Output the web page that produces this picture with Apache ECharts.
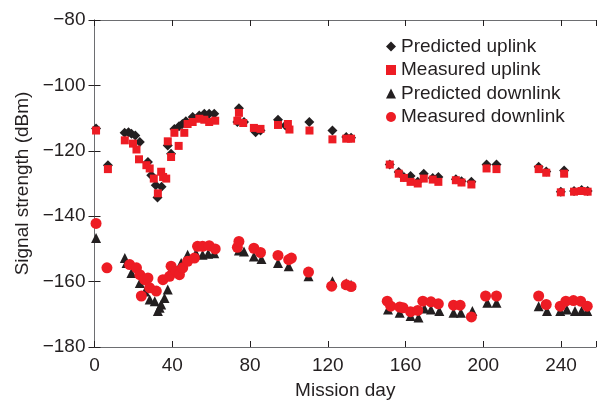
<!DOCTYPE html>
<html><head><meta charset="utf-8">
<script src="https://cdn.jsdelivr.net/npm/echarts@6/dist/echarts.min.js"></script>
<style>html,body{margin:0;padding:0;background:#fff}#c{width:599px;height:405px}</style>
</head><body><div id="c"></div>
<script>
const xTicks = [0, 40, 80, 120, 160, 200, 240];
const yTicks = [-180, -160, -140, -120, -100, -80];
const seriesNames = ['Predicted uplink', 'Measured uplink', 'Predicted downlink', 'Measured downlink'];

const predUpDays = [0.8, 6.9, 15.5, 17.5, 19, 21, 23.3, 27.5, 29.2, 31.5, 32.4, 34.5, 37.7, 39.4, 41.1, 43.5, 45.2, 47, 50.5, 53.9, 56.5, 59, 61.6, 73.5, 74.3, 76.9, 82.9, 85.4, 94.4, 98.2, 110.5, 122.4, 129.5, 132, 151.9, 156.5, 159.2, 162.6, 166.3, 169.4, 174, 176.9, 185.9, 188.8, 193.9, 201.7, 206.8, 228.5, 232.4, 239.9, 241.6, 246.7, 250.6, 253.7];
const predUpVals = [-113.2, -124.4, -114.5, -114.3, -114.8, -115.3, -117.3, -123.4, -127.5, -130.5, -134.3, -131, -118.4, -120.9, -113.3, -112.5, -111.8, -111, -109.7, -109.2, -108.7, -108.7, -108.7, -111.2, -107.0, -111.2, -114.3, -113.8, -110.5, -112.3, -111.2, -113.8, -115.8, -116, -124.2, -126.5, -128, -127.7, -129.5, -127, -128.3, -128, -128.7, -129.3, -129.5, -124.2, -124.2, -124.9, -126.3, -132.5, -126, -132.3, -132, -132.3];

const measUpDays = [0.8, 6.9, 15.6, 19.8, 21.6, 22.9, 26.7, 28.4, 30.5, 32.6, 34.3, 35.3, 36.9, 37.7, 39.4, 41.1, 43.3, 46.2, 47.9, 50.5, 53.9, 56.5, 59, 62.1, 73.5, 74.3, 76.5, 82, 85.4, 94.4, 99.5, 100.3, 110.6, 122.4, 129.5, 132, 151.9, 156.5, 159.2, 162.6, 166.3, 169.4, 174, 176.9, 185.9, 188.8, 193.9, 201.7, 206.8, 228.5, 232.4, 239.9, 241.6, 246.7, 250.6, 253.7];
const measUpVals = [-113.8, -125.6, -116.8, -117.8, -119.6, -122.6, -124.4, -125.4, -128.5, -133, -126.4, -128, -128.5, -117.1, -121.9, -114.5, -118.5, -114.5, -111.8, -111.2, -110.2, -110.5, -111.2, -110.8, -110.8, -108.4, -111.5, -113, -113.3, -112.1, -111.8, -113.5, -113.8, -116.5, -116.3, -116.3, -124.2, -127, -128.3, -129.5, -130, -128.5, -128.8, -129.5, -129, -129.7, -130.3, -125.4, -125.6, -125.6, -126.7, -132.7, -127, -132.5, -132.3, -132.5];

const predDownDays = [0.8, 15.6, 16.5, 19, 23.3, 26, 28.4, 31, 32.6, 33.5, 34.3, 36, 37.7, 38.6, 44.6, 47.9, 52.2, 55.6, 58.5, 61.6, 74.3, 76.9, 82, 85.9, 94.4, 99.9, 110.1, 122.4, 129.5, 132, 151, 157, 162.6, 166.7, 169.7, 173.1, 177.4, 184.7, 188.5, 194.4, 202.1, 206.8, 228.5, 232.8, 239.6, 243, 247.2, 250.6, 253.5];
const predDownVals = [-146.7, -152.8, -154.3, -157.4, -160.4, -163, -165.5, -166, -169, -168, -167, -165, -162.4, -157.4, -154.3, -151.8, -151.3, -151.8, -151.5, -151.3, -150.5, -150.8, -152.3, -153.1, -154.3, -155.3, -158.4, -159.9, -160.5, -161, -168.5, -169.5, -170.5, -171, -168.2, -168.5, -169, -169.5, -169.5, -169, -166.5, -166.5, -167.5, -169, -169, -168.5, -169, -169, -169];

const measDownDays = [0.8, 6.4, 18.1, 21.6, 23.3, 25.8, 27.5, 24.1, 28.4, 31.8, 35.2, 38.6, 39.4, 42, 43.7, 45.4, 47.9, 51.4, 53, 55.6, 59, 62.1, 73.5, 74.3, 82, 85.4, 94.4, 99.9, 101.3, 110.1, 122, 129.5, 132, 150.6, 152.4, 157, 158.7, 162.6, 166.3, 168.9, 173.1, 176.9, 184.7, 188.1, 193.9, 201.2, 206.8, 228.5, 232.4, 239.6, 242.5, 246.4, 250.1, 253.5];
const measDownVals = [-142.2, -155.8, -154.8, -155.8, -157.9, -159.4, -158.9, -164.4, -161.9, -162.9, -159.4, -158.4, -155.3, -156.8, -157.9, -155.8, -153.8, -152.8, -149.2, -149.2, -149, -150, -149.5, -147.7, -149.8, -151.1, -152, -153.3, -152.8, -157.1, -161.4, -161, -161.5, -166, -167.5, -167.8, -168, -169.2, -168.8, -166, -166.2, -166.8, -167.2, -167.2, -170.8, -164.4, -164.4, -164.4, -167, -167.5, -166, -165.8, -166, -167.5];

const zip = (a, b) => a.map((d, i) => [d, b[i]]);
const BLACK = '#231f20', RED = '#ed1c24', AXIS = '#6d6e71';
const FONT = '"Liberation Sans", Arial, Helvetica, sans-serif';

const chart = echarts.init(document.getElementById('c'), null, {renderer: 'canvas'});
const baseX = {type: 'value', min: 0, max: 258, interval: 40, splitLine: {show: false},
  axisLine: {lineStyle: {color: AXIS, width: 1}},
  axisTick: {inside: true, length: 6, lineStyle: {color: BLACK}}};
const baseY = {type: 'value', min: -180, max: -80, interval: 20, splitLine: {show: false},
  axisLine: {show: true, lineStyle: {color: AXIS, width: 1}},
  axisTick: {show: true, inside: true, length: 6, lineStyle: {color: BLACK}}};

chart.setOption({
  animation: false,
  backgroundColor: '#fff',
  textStyle: {fontFamily: FONT},
  grid: {left: 94.5, top: 20, right: 0, bottom: 55},
  legend: {
    data: seriesNames, orient: 'vertical', left: 386, top: 37, padding: 0,
    itemWidth: 10, itemHeight: 10, itemGap: 4.5,
    textStyle: {fontSize: 19, color: BLACK, fontFamily: FONT}
  },
  xAxis: [
    Object.assign({}, baseX, {position: 'bottom',
      axisLabel: {fontSize: 19, color: BLACK, margin: 9, fontFamily: FONT,
        formatter: v => xTicks.includes(v) ? String(v) : ''},
      name: 'Mission day', nameLocation: 'middle', nameGap: 34,
      nameTextStyle: {fontSize: 19, color: BLACK, fontFamily: FONT}}),
    Object.assign({}, baseX, {position: 'top', axisLabel: {show: false}})
  ],
  yAxis: [
    Object.assign({}, baseY, {position: 'left',
      axisLabel: {fontSize: 19, color: BLACK, margin: 9, fontFamily: FONT,
        formatter: v => yTicks.includes(v) ? String(v).replace('-', '\u2212') : ''},
      name: 'Signal strength (dBm)', nameLocation: 'middle', nameGap: 56,
      nameTextStyle: {fontSize: 19, color: BLACK, fontFamily: FONT}}),
    Object.assign({}, baseY, {position: 'right', axisLabel: {show: false}})
  ],
  series: [
    {name: seriesNames[0], type: 'scatter', symbol: 'diamond', symbolSize: 10,
      itemStyle: {color: BLACK, opacity: 1}, data: zip(predUpDays, predUpVals)},
    {name: seriesNames[1], type: 'scatter', symbol: 'rect', symbolSize: 8,
      itemStyle: {color: RED, opacity: 1}, data: zip(measUpDays, measUpVals)},
    {name: seriesNames[2], type: 'scatter', symbol: 'triangle', symbolSize: 10,
      itemStyle: {color: BLACK, opacity: 1}, data: zip(predDownDays, predDownVals)},
    {name: seriesNames[3], type: 'scatter', symbol: 'circle', symbolSize: 11,
      itemStyle: {color: RED, opacity: 1}, data: zip(measDownDays, measDownVals)}
  ]
});
</script></body></html>
